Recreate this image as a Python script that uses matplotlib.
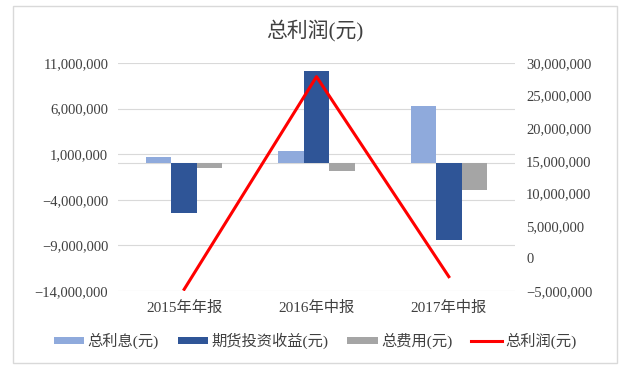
import matplotlib
matplotlib.use("Agg")
import matplotlib.pyplot as plt
import matplotlib.patches as mpatches
import numpy as np
from matplotlib.ticker import FuncFormatter

plt.rcParams['font.family'] = ['Liberation Serif', 'Noto Sans CJK SC', 'DejaVu Sans']

categories = ['2015年年报', '2016年中报', '2017年中报']
interest = [0.72e6, 1.32e6, 6.28e6]
futures_income = [-5.45e6, 10.14e6, -8.41e6]
expenses = [-0.55e6, -0.85e6, -2.93e6]
total_profit = [-4.74e6, 27.9e6, -2.8e6]
series_names = ['总利息(元)', '期货投资收益(元)', '总费用(元)', '总利润(元)']
title = '总利润(元)'
left_ticks = [-14e6, -9e6, -4e6, 1e6, 6e6, 11e6]
right_ticks = [-5e6, 0, 5e6, 10e6, 15e6, 20e6, 25e6, 30e6]

c_light = '#8FAADC'
c_dark = '#2F5597'
c_gray = '#A5A5A5'
c_red = '#FF0000'
grid_c = '#D9D9D9'
text_c = '#404040'

fig = plt.figure(figsize=(6.30, 3.68), dpi=100)
ax = fig.add_axes([118/630, 1-291/368, (515-118)/630, (291-63)/368])
ax2 = ax.twinx()

x = np.arange(len(categories))
gap = 2.19
w = 1.0 / (3 + gap)
b1 = ax.bar(x - w, interest, w, color=c_light, label=series_names[0], zorder=3)
b2 = ax.bar(x, futures_income, w, color=c_dark, label=series_names[1], zorder=3)
b3 = ax.bar(x + w, expenses, w, color=c_gray, label=series_names[2], zorder=3)
ln, = ax2.plot(x, total_profit, color=c_red, lw=2.2, label=series_names[3], zorder=4)

ax.set_xlim(-0.5, 2.5)
ax.set_ylim(left_ticks[0], left_ticks[-1])
ax.set_yticks(left_ticks)
ax2.set_ylim(right_ticks[0], right_ticks[-1])
ax2.set_yticks(right_ticks)

fmt = FuncFormatter(lambda v, p: f'{int(round(v)):,}'.replace('-', '−'))
ax.yaxis.set_major_formatter(fmt)
ax2.yaxis.set_major_formatter(fmt)

ax.grid(axis='y', color=grid_c, lw=0.8, zorder=0)
ax.axhline(0, color=grid_c, lw=0.8, zorder=1)
for a in (ax, ax2):
    for s in a.spines.values():
        s.set_visible(False)
    a.tick_params(length=0, labelsize=10.5, colors=text_c)
ax.tick_params(axis='y', pad=7)
ax2.tick_params(axis='y', pad=8)
ax.set_xticks(x)
ax.set_xticklabels(categories, fontsize=11)
ax.tick_params(axis='x', pad=7)

fig.text(0.5, 1 - 30/368, title, ha='center', va='center', fontsize=15, color=text_c)

fig.legend(handles=[b1, b2, b3, ln], labels=series_names, loc='center',
           bbox_to_anchor=(0.5, 1 - 341/368), ncol=4, frameon=False,
           fontsize=11, handlelength=2.0, handleheight=0.35, columnspacing=1.25,
           handletextpad=0.2, labelcolor=text_c)

fig.patches.append(mpatches.Rectangle((13/630, 5/368), 604/630, 357/368,
                                      transform=fig.transFigure, fill=False,
                                      edgecolor=grid_c, lw=1))

fig.savefig('out.png', dpi=100)
